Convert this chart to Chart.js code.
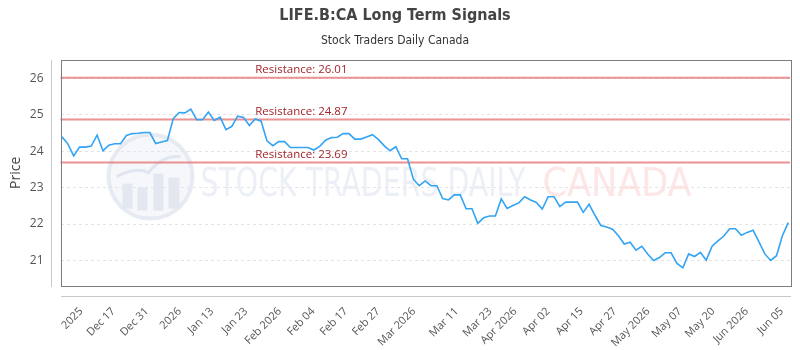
<!DOCTYPE html>
<html>
<head>
<meta charset="utf-8">
<script src="https://cdn.jsdelivr.net/npm/chart.js@4.4.1/dist/chart.umd.min.js"></script>
<style>
  html, body { margin: 0; padding: 0; background: #fff; }
  #wrap { width: 800px; height: 350px; }
</style>
</head>
<body>
<div id="wrap"><canvas id="c"></canvas></div>
<script>
// ── data ──
const prices = [
  24.39, 24.20, 23.87, 24.11, 24.11, 24.14, 24.44, 24.01, 24.16, 24.20,
  24.20, 24.43, 24.48, 24.49, 24.51, 24.51, 24.21, 24.25, 24.29, 24.89,
  25.06, 25.05, 25.15, 24.86, 24.86, 25.07, 24.84, 24.93, 24.59, 24.68,
  24.96, 24.92, 24.70, 24.88, 24.82, 24.28, 24.15, 24.26, 24.26, 24.10,
  24.10, 24.10, 24.10, 24.03, 24.13, 24.30, 24.37, 24.38, 24.48, 24.48,
  24.33, 24.33, 24.39, 24.45, 24.32, 24.15, 24.01, 24.12, 23.79, 23.79,
  23.23, 23.05, 23.18, 23.05, 23.05, 22.70, 22.66, 22.80, 22.80, 22.42,
  22.42, 22.02, 22.17, 22.22, 22.22, 22.69, 22.43, 22.51, 22.58, 22.75,
  22.66, 22.59, 22.41, 22.75, 22.75, 22.48, 22.60, 22.60, 22.60, 22.32,
  22.54, 22.24, 21.96, 21.92, 21.86, 21.68, 21.45, 21.50, 21.28, 21.39,
  21.18, 21.00, 21.08, 21.21, 21.21, 20.92, 20.80, 21.18, 21.11, 21.22,
  21.01, 21.39, 21.54, 21.67, 21.87, 21.87, 21.69, 21.77, 21.83, 21.51,
  21.18, 21.00, 21.13, 21.68, 22.04
];

const xTickLabels = ['2025', 'Dec 17', 'Dec 31', '2026', 'Jan 13', 'Jan 23', 'Feb 2026', 'Feb 04',
  'Feb 17', 'Feb 27', 'Mar 2026', 'Mar 11', 'Mar 23', 'Apr 2026', 'Apr 02', 'Apr 15',
  'Apr 27', 'May 2026', 'May 07', 'May 20', 'Jun 2026', 'Jun 05'];
const xTickPos = [3.3, 8.8, 14.5, 20.1, 25.6, 31.4, 37.2, 42.9, 48.5, 54.0, 60.1, 67.4,
  73.1, 77.4, 83.0, 88.7, 94.4, 100.1, 105.5, 111.2, 116.9, 122.9];

const yTicks = [21, 22, 23, 24, 25, 26];

const resistance = [26.01, 24.87, 23.69];
const resistanceLabelAt = 33;

const Y_MIN = 20.3;
const Y_MAX = 26.51;

const NARROW = "'Liberation Sans Narrow', 'DejaVu Sans Condensed', sans-serif";

// ── plugins ──
const watermark = {
  id: 'watermark',
  beforeDatasetsDraw(chart) {
    const { ctx, chartArea: a } = chart;
    const cx = a.left + 90, cy = a.top + 117;
    ctx.save();
    ctx.beginPath();
    ctx.arc(cx, cy, 42, 0, Math.PI * 2);
    ctx.fillStyle = 'rgba(228,233,241,0.35)';
    ctx.fill();
    ctx.lineWidth = 4;
    ctx.strokeStyle = 'rgba(225,231,240,0.8)';
    ctx.stroke();
    ctx.fillStyle = 'rgba(222,228,238,0.8)';
    ctx.fillRect(cx - 28, cy + 7, 10, 25);
    ctx.fillRect(cx - 13, cy + 11, 10, 23);
    ctx.fillRect(cx + 3, cy - 3, 10, 37);
    ctx.fillRect(cx + 18, cy + 1, 11, 31);
    ctx.beginPath();
    ctx.moveTo(cx - 34, cy);
    ctx.quadraticCurveTo(cx - 15, cy - 10, cx - 2, cy - 4);
    ctx.quadraticCurveTo(cx + 12, cy - 22, cx + 30, cy - 20);
    ctx.lineWidth = 3;
    ctx.strokeStyle = 'rgba(222,228,238,0.9)';
    ctx.stroke();

    ctx.font = '39px ' + NARROW;
    ctx.textBaseline = 'alphabetic';
    ctx.textAlign = 'left';
    ctx.fillStyle = 'rgba(228,234,242,0.7)';
    ctx.fillText('STOCK TRADERS DAILY', a.left + 140, a.top + 136, 325);
    ctx.fillStyle = 'rgba(252,220,220,0.7)';
    ctx.fillText('CANADA', a.left + 482, a.top + 136, 158);
    ctx.restore();
  }
};

const resistanceLines = {
  id: 'resistanceLines',
  beforeDatasetsDraw(chart) {
    const { ctx, chartArea: a, scales } = chart;
    const lx = scales.x.getPixelForValue(resistanceLabelAt);
    ctx.save();
    resistance.forEach(r => {
      const y = scales.y.getPixelForValue(r);
      ctx.beginPath();
      ctx.moveTo(a.left, y);
      ctx.lineTo(a.right, y);
      ctx.lineWidth = 2;
      ctx.strokeStyle = 'rgba(228,110,110,0.75)';
      ctx.stroke();
      ctx.font = "11.5px 'Open Sans', sans-serif";
      ctx.fillStyle = '#a3262c';
      ctx.textAlign = 'left';
      ctx.textBaseline = 'alphabetic';
      ctx.fillText('Resistance: ' + r.toFixed(2), lx, y - 4.5);
    });
    ctx.restore();
  }
};

const frame = {
  id: 'frame',
  afterDatasetsDraw(chart) {
    const { ctx, chartArea: a } = chart;
    ctx.save();
    ctx.lineWidth = 1;
    ctx.strokeStyle = '#7d7d7d';
    ctx.strokeRect(Math.round(a.left) + 0.5, Math.round(a.top) + 0.5,
      Math.round(a.right - a.left), Math.round(a.bottom - a.top));
    ctx.strokeStyle = '#c8c8c8';
    ctx.beginPath();
    ctx.moveTo(Math.round(a.left) - 9.5, Math.round(a.top));
    ctx.lineTo(Math.round(a.left) - 9.5, Math.round(a.bottom) + 1);
    ctx.moveTo(Math.round(a.left), Math.round(a.bottom) + 10.5);
    ctx.lineTo(Math.round(a.right) + 1, Math.round(a.bottom) + 10.5);
    ctx.stroke();
    ctx.restore();
  }
};

// ── chart ──
new Chart(document.getElementById('c'), {
  type: 'line',
  data: {
    datasets: [{
      label: 'Price',
      data: prices.map((p, i) => ({ x: i, y: p })),
      borderColor: '#33a3f4',
      borderWidth: 1.6,
      pointRadius: 0,
      tension: 0,
      fill: false,
    }],
  },
  options: {
    responsive: true,
    maintainAspectRatio: false,
    animation: false,
    layout: { padding: { left: 0, right: 10, top: 0, bottom: 0 } },
    plugins: {
      legend: { display: false },
      tooltip: { enabled: false },
      title: {
        display: true,
        text: 'LIFE.B:CA Long Term Signals',
        color: '#444',
        font: { family: NARROW, size: 16, weight: 'bold' },
        padding: { top: 6, bottom: 3 },
      },
      subtitle: {
        display: true,
        text: 'Stock Traders Daily Canada',
        color: '#333',
        font: { family: NARROW, size: 12 },
        padding: { top: 5, bottom: 12 },
      },
    },
    scales: {
      x: {
        type: 'linear',
        min: -0.25,
        max: 124.3,
        grid: { display: false, drawTicks: false },
        border: { display: false },
        afterBuildTicks: s => { s.ticks = xTickPos.map(v => ({ value: v })); },
        afterFit: s => { s.height = 64; s.paddingRight = 0; s.paddingLeft = 0; },
        ticks: {
          autoSkip: false,
          minRotation: 45,
          maxRotation: 45,
          padding: 19,
          color: '#555',
          font: { family: "'Open Sans', sans-serif", size: 11 },
          callback: (v, i) => xTickLabels[i],
        },
      },
      y: {
        min: Y_MIN,
        max: Y_MAX,
        grid: { color: '#e4e4e4', drawTicks: false },
        border: { display: false, dash: [3, 3] },
        afterBuildTicks: s => { s.ticks = yTicks.map(v => ({ value: v })); },
        afterFit: s => { s.width = 60.5; },
        title: {
          display: true,
          text: 'Price',
          color: '#444',
          font: { family: "'Open Sans', sans-serif", size: 14 },
          padding: { top: 8, bottom: 0 },
        },
        ticks: {
          padding: 17,
          color: '#555',
          font: { family: "'Open Sans', sans-serif", size: 12 },
        },
      },
    },
  },
  plugins: [watermark, resistanceLines, frame],
});
</script>
</body>
</html>
